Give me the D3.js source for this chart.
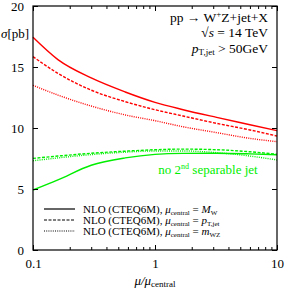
<!DOCTYPE html>
<html>
<head>
<script src="https://cdnjs.cloudflare.com/ajax/libs/d3/7.8.5/d3.min.js"></script>
<style>
  body { margin: 0; background: #fff; }
  text { font-family: "Liberation Serif", "DejaVu Serif", serif; fill: #000; }
</style>
</head>
<body>
<script>
// scale ratio mu/mu_central
const muValues = [0.1, 0.16, 0.3, 0.57, 1, 1.7, 3.2, 6, 10];

// sigma [pb], W+Z+jet
const redSolid  = [17.43, 15.6, 14.1, 12.95, 12.1, 11.5, 10.87, 10.27, 9.78];
const redDashed = [15.85, 14.48, 13.1, 12.16, 11.5, 10.98, 10.38, 9.84, 9.34];
const redDotted = [13.5, 12.7, 11.8, 11.07, 10.6, 10.1, 9.62, 9.15, 8.88];
// no 2nd separable jet
const greenSolid  = [4.92, 5.75, 6.95, 7.55, 7.84, 7.92, 7.93, 7.88, 7.81];
const greenDashed = [7.51, 7.7, 7.93, 8.1, 8.22, 8.27, 8.22, 8.05, 7.85];
const greenDotted = [7.32, 7.55, 7.82, 8.02, 8.12, 8.12, 7.98, 7.7, 7.38];

const xTicks = [0.1, 1, 10];
const yTicks = [0, 5, 10, 15, 20];

const w = 286, h = 288;
const m = {left: 33, right: 9, top: 6, bottom: 38};

const svg = d3.select("body").append("svg").attr("width", w).attr("height", h);

const x = d3.scaleLog().domain([0.1, 10]).range([m.left, w - m.right]);
const y = d3.scaleLinear().domain([0, 20]).range([h - m.bottom, m.top]);

const dash = {solid: null, dashed: "3,1.5", dotted: "1,1.2"};

const line = d3.line()
  .x(d => x(d[0]))
  .y(d => y(d[1]))
  .curve(d3.curveMonotoneX);

const series = [
  {v: redSolid, c: "#ff0000", s: "solid"},
  {v: redDashed, c: "#ff0000", s: "dashed"},
  {v: redDotted, c: "#ff0000", s: "dotted"},
  {v: greenSolid, c: "#00ee00", s: "solid"},
  {v: greenDashed, c: "#00ee00", s: "dashed"},
  {v: greenDotted, c: "#00ee00", s: "dotted"}
];

svg.append("g").selectAll("path")
  .data(series)
  .enter()
  .append("path")
  .attr("d", d => line(muValues.map((mu, i) => [mu, d.v[i]])))
  .attr("fill", "none")
  .attr("stroke", d => d.c)
  .attr("stroke-width", 1.4)
  .attr("stroke-dasharray", d => dash[d.s]);

// axes, ticks pointing inward
const minor = [];
[0.1, 1].forEach(b => { for (let k = 2; k <= 9; k++) minor.push(b * k); });

const xb = svg.append("g").attr("transform", "translate(0," + y(0) + ")")
  .call(d3.axisBottom(x).tickValues(xTicks).tickSize(-5).tickPadding(9).tickFormat(d3.format("")));
const xbm = svg.append("g").attr("transform", "translate(0," + y(0) + ")")
  .call(d3.axisBottom(x).tickValues(minor).tickSize(-3).tickFormat(""));
const xt = svg.append("g").attr("transform", "translate(0," + y(20) + ")")
  .call(d3.axisTop(x).tickValues(xTicks).tickSize(-5).tickFormat(""));
const xtm = svg.append("g").attr("transform", "translate(0," + y(20) + ")")
  .call(d3.axisTop(x).tickValues(minor).tickSize(-3).tickFormat(""));
const yl = svg.append("g").attr("transform", "translate(" + x(0.1) + ",0)")
  .call(d3.axisLeft(y).tickValues(yTicks).tickSize(-5).tickPadding(9));
const yr = svg.append("g").attr("transform", "translate(" + x(10) + ",0)")
  .call(d3.axisRight(y).tickValues(yTicks).tickSize(-5).tickFormat(""));

[xb, xbm, xt, xtm, yl, yr].forEach(g => {
  g.select(".domain").remove();
  g.selectAll("line").attr("stroke", "#000").attr("stroke-width", 1);
  g.selectAll("text").style("font-family", "Liberation Serif, serif").style("font-size", "13px").attr("fill", "#000");
});

svg.append("rect")
  .attr("x", x(0.1)).attr("y", y(20))
  .attr("width", x(10) - x(0.1)).attr("height", y(0) - y(20))
  .attr("fill", "none").attr("stroke", "#000").attr("stroke-width", 1.2);

// axis labels
const yLab = svg.append("text").attr("x", 1).attr("y", 38).style("font-size", "13px");
yLab.append("tspan").attr("font-style", "italic").text("σ");
yLab.append("tspan").text("[pb]");

const xLab = svg.append("text").attr("x", 155).attr("y", 285).attr("text-anchor", "middle").style("font-size", "13px");
xLab.append("tspan").attr("font-style", "italic").text("μ/μ");
xLab.append("tspan").attr("font-size", "9px").attr("dy", 2).text("central");

// process info, top right
const info = svg.append("g").attr("text-anchor", "end").style("font-size", "13.5px");
const t1 = info.append("text").attr("x", 268).attr("y", 22);
t1.append("tspan").text("pp → W");
t1.append("tspan").attr("font-size", "9px").attr("dy", -5).text("+");
t1.append("tspan").attr("dy", 5).text("Z+jet+X");
const t2 = info.append("text").attr("x", 268).attr("y", 37);
t2.append("tspan").text("√");
t2.append("tspan").attr("font-style", "italic").text("s");
t2.append("tspan").text(" = 14 TeV");
const t3 = info.append("text").attr("x", 268).attr("y", 53);
t3.append("tspan").attr("font-style", "italic").text("p");
t3.append("tspan").attr("font-size", "9px").attr("dy", 2).text("T,jet");
t3.append("tspan").attr("dy", -2).text(" > 50GeV");

svg.append("text").attr("x", 208).attr("y", 174).attr("text-anchor", "middle")
  .style("font-size", "13px").style("fill", "#00ee00")
  .call(t => {
    t.append("tspan").text("no 2");
    t.append("tspan").attr("font-size", "8px").attr("dy", -5).text("nd");
    t.append("tspan").attr("dy", 5).text(" separable jet");
  });

// legend
const legendRows = [
  {s: "solid", sub: "W", v: "M"},
  {s: "dashed", sub: "T,jet", v: "p"},
  {s: "dotted", sub: "WZ", v: "m"}
];
const lg = svg.append("g").selectAll("g")
  .data(legendRows)
  .enter()
  .append("g")
  .attr("transform", (d, i) => "translate(0," + (209 + i * 11) + ")");
lg.append("line")
  .attr("x1", 44).attr("x2", 75)
  .attr("stroke", "#000").attr("stroke-width", 1.2)
  .attr("stroke-dasharray", d => dash[d.s]);
lg.append("text").attr("x", 83).attr("y", 4).style("font-size", "11px")
  .each(function(d) {
    const t = d3.select(this);
    t.append("tspan").text("NLO (CTEQ6M),  ");
    t.append("tspan").attr("font-style", "italic").text("μ");
    t.append("tspan").attr("font-size", "7px").attr("dy", 2).text("central");
    t.append("tspan").attr("dy", -2).text(" = ");
    t.append("tspan").attr("font-style", "italic").text(d.v);
    t.append("tspan").attr("font-size", "7px").attr("dy", 2).text(d.sub);
  });
</script>
</body>
</html>
